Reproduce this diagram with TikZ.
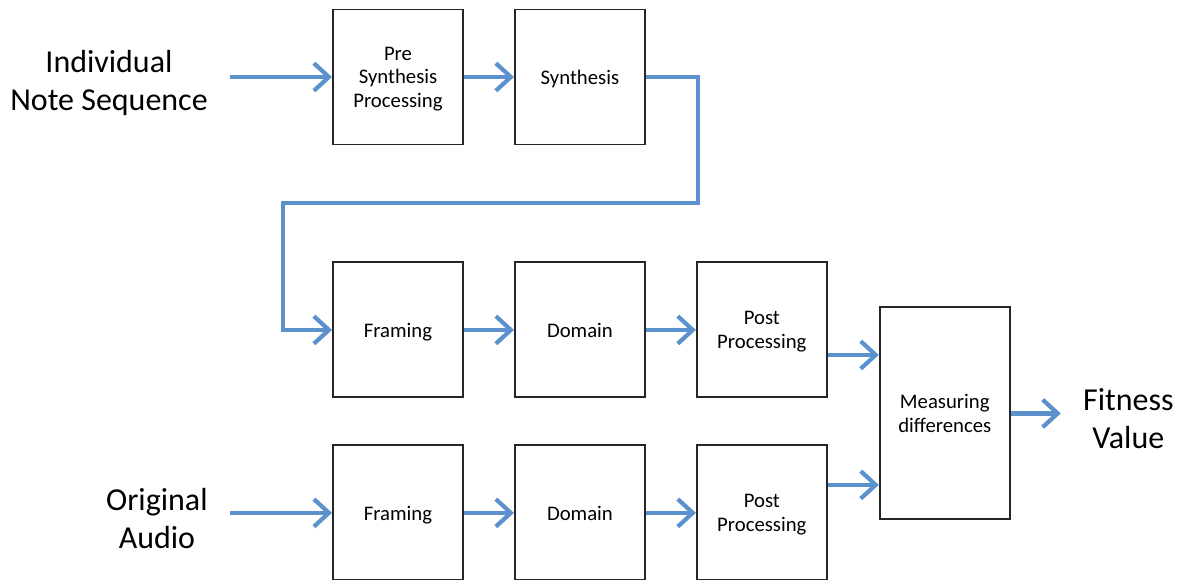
\documentclass[tikz,border=0pt]{standalone}
\usepackage{fontspec}
\setmainfont{Carlito}
\usetikzlibrary{positioning}
\usetikzlibrary{arrows.meta}
\definecolor{flowblue}{RGB}{91,146,206}
\tikzstyle{stage}=[draw=black!85,line width=1.1pt,minimum width=2.6cm,minimum height=2.7cm,text depth=0pt,align=center,font=\fontsize{11.8}{13.4}\selectfont]
\tikzstyle{flow edge}=[-{Straight Barb[length=0.3cm,width=0.55cm]},flowblue,line width=2.4pt]
\tikzstyle{io label}=[align=center,inner xsep=0.44cm,font=\fontsize{18.2}{21.6}\selectfont]
\newcommand{\stagenode}[3][]{
  \node [stage, #1] (#2) {#3}
}

\begin{document}
\begin{tikzpicture}[node distance=1cm]
        \path[use as bounding box, clip] (0,0) rectangle (23.54,-11.6);
        \stagenode[at={(7.96,-1.54)}]{pre}{Pre\\Synthesis\\Processing};
        \stagenode[right=of pre]{synth}{Synthesis};
        % synthesised branch
        \stagenode[below=2.32cm of pre]{frameA}{Framing};
        \stagenode[right=of frameA]{domainA}{Domain};
        \stagenode[right=of domainA]{postA}{Post\\Processing};
        % original branch
        \stagenode[below=0.92cm of frameA]{frameB}{Framing};
        \stagenode[right=of frameB]{domainB}{Domain};
        \stagenode[right=of domainB]{postB}{Post\\Processing};
        \stagenode[below right=0.9cm and 1.02cm of postA.north east, minimum height=4.24cm]{meas}{Measuring\\differences};

        \node [io label, left=2.04cm of pre, yshift=-0.12cm] (seq) {Individual\\Note Sequence};
        \node [io label, left=2.04cm of frameB, yshift=-0.12cm] (orig) {Original\\Audio};
        \node [io label, right=1cm of meas, yshift=-0.1cm] (fit) {Fitness\\Value};

        \coordinate (drop) at (5.66,-4.06);
        \coordinate (tapA) at ([yshift=-0.5cm]postA.east);
        \coordinate (tapB) at ([yshift=0.56cm]postB.east);

            \draw[flow edge] (seq.east |- pre.west) -- (pre.west);
            \draw[flow edge] (pre) -- (synth);
            \draw[flow edge] (synth.east) -- ++(1.04,0) |- (drop) |- (frameA.west);

            \draw[flow edge] (frameA) -- (domainA);
            \draw[flow edge] (domainA) -- (postA);
            \draw[flow edge] (orig.east |- frameB.west) -- (frameB.west);
            \draw[flow edge] (frameB) -- (domainB);
            \draw[flow edge] (domainB) -- (postB);

            \draw[flow edge] (tapA) -- (tapA -| meas.west);
            \draw[flow edge] (tapB) -- (tapB -| meas.west);
            \draw[flow edge] (meas.east) -- (meas.east -| fit.west);
\end{tikzpicture}
\end{document}
